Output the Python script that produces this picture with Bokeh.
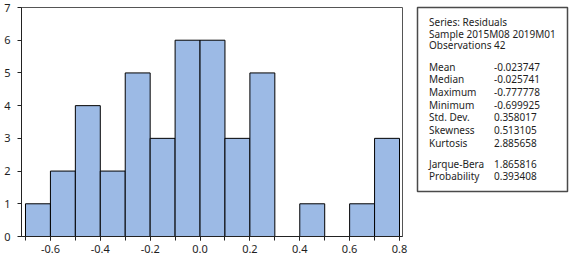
from bokeh.plotting import figure
from bokeh.layouts import row
from bokeh.models import Range1d, FixedTicker, NumeralTickFormatter, ColumnDataSource
from bokeh.embed import file_html
from bokeh.resources import INLINE
from bokeh.core.properties import value

# ---- data ----
bin_left = [-0.7, -0.6, -0.5, -0.4, -0.3, -0.2, -0.1, 0.0, 0.1, 0.2, 0.3, 0.4, 0.5, 0.6, 0.7]
counts = [1, 2, 4, 2, 5, 3, 6, 6, 3, 5, 0, 1, 0, 1, 3]
bin_width = 0.1
x_major_ticks = [-0.6, -0.4, -0.2, 0.0, 0.2, 0.4, 0.6, 0.8]
x_minor_ticks = [-0.7, -0.6, -0.5, -0.4, -0.3, -0.2, -0.1, 0.0, 0.1, 0.2, 0.3, 0.4, 0.5, 0.6, 0.7, 0.8]
y_ticks = [0, 1, 2, 3, 4, 5, 6, 7]

header_lines = ["Series: Residuals", "Sample 2015M08 2019M01", "Observations 42"]
stat_names = ["Mean", "Median", "Maximum", "Minimum", "Std. Dev.", "Skewness", "Kurtosis"]
stat_values = ["-0.023747", "-0.025741", "-0.777778", "-0.699925", "0.358017", "0.513105", "2.885658"]
test_names = ["Jarque-Bera", "Probability"]
test_values = ["1.865816", "0.393408"]

FONT = "Noto Sans"
TXT = "#1e1e1e"
BAR = "#9CBAE5"

W1, W2, H = 410, 162, 259

# ---- histogram ----
src = ColumnDataSource(dict(
    left=bin_left,
    right=[b + bin_width for b in bin_left],
    top=counts,
))

p = figure(width=W1, height=H, x_range=Range1d(-0.716, 0.812), y_range=Range1d(0, 7),
           toolbar_location=None, output_backend="svg", frame_align=False,
           min_border_left=21, min_border_right=8, min_border_top=7, min_border_bottom=23)
p.quad(left="left", right="right", top="top", bottom=0, source=src,
       fill_color=BAR, line_color="black", line_width=1)
p.grid.visible = False
p.outline_line_color = "#555555"
p.outline_line_width = 1

p.xaxis.ticker = FixedTicker(ticks=x_major_ticks, minor_ticks=x_minor_ticks)
p.xaxis.formatter = NumeralTickFormatter(format="0.0")
p.yaxis.ticker = FixedTicker(ticks=y_ticks)
for ax in (p.xaxis[0], p.yaxis[0]):
    ax.axis_line_color = "#222222"
    ax.major_tick_line_color = "#222222"
    ax.minor_tick_line_color = "#222222"
    ax.major_tick_in = 0
    ax.minor_tick_in = 0
    ax.major_label_text_font = FONT
    ax.major_label_text_font_size = "11px"
    ax.major_label_text_color = TXT
p.xaxis.major_tick_out = 4
p.xaxis.minor_tick_out = 4
p.xaxis.major_label_standoff = 4
p.yaxis.major_tick_out = 4
p.yaxis.minor_tick_out = 0
p.yaxis.major_label_standoff = 7

# ---- statistics box ----
box_w, box_h = 150, 184
p2 = figure(width=W2, height=H, x_range=Range1d(0, box_w), y_range=Range1d(box_h, 0),
            toolbar_location=None, output_backend="svg", frame_align=False,
            x_axis_location=None, y_axis_location=None,
            min_border_left=7, min_border_right=W2 - 7 - box_w, min_border_top=7,
            min_border_bottom=H - 7 - box_h)
p2.grid.visible = False
p2.outline_line_color = "#4a4a4a"
p2.outline_line_width = 1.5

label_x = 11.5
value_x = 76.5
head_top, head_step = 14.7, 11.6
stat_top, stat_step = 59.0, 12.67
test_top, test_step = 156.0, 12.0

head_y = [head_top + i * head_step for i in range(len(header_lines))]
stat_y = [stat_top + i * stat_step for i in range(len(stat_names))]
test_y = [test_top + i * test_step for i in range(len(test_names))]

txt_kw = dict(text_font=value(FONT), text_font_size="10px", text_color=TXT,
              text_baseline="middle", text_align="left")
p2.text(x=[label_x] * len(header_lines), y=head_y, text=header_lines, **txt_kw)
p2.text(x=[label_x] * len(stat_names), y=stat_y, text=stat_names, **txt_kw)
p2.text(x=[value_x] * len(stat_values), y=stat_y, text=stat_values, **txt_kw)
p2.text(x=[label_x] * len(test_names), y=test_y, text=test_names, **txt_kw)
p2.text(x=[value_x] * len(test_values), y=test_y, text=test_values, **txt_kw)

layout = row(p, p2)
open("out.html", "w").write(file_html(layout, INLINE))
